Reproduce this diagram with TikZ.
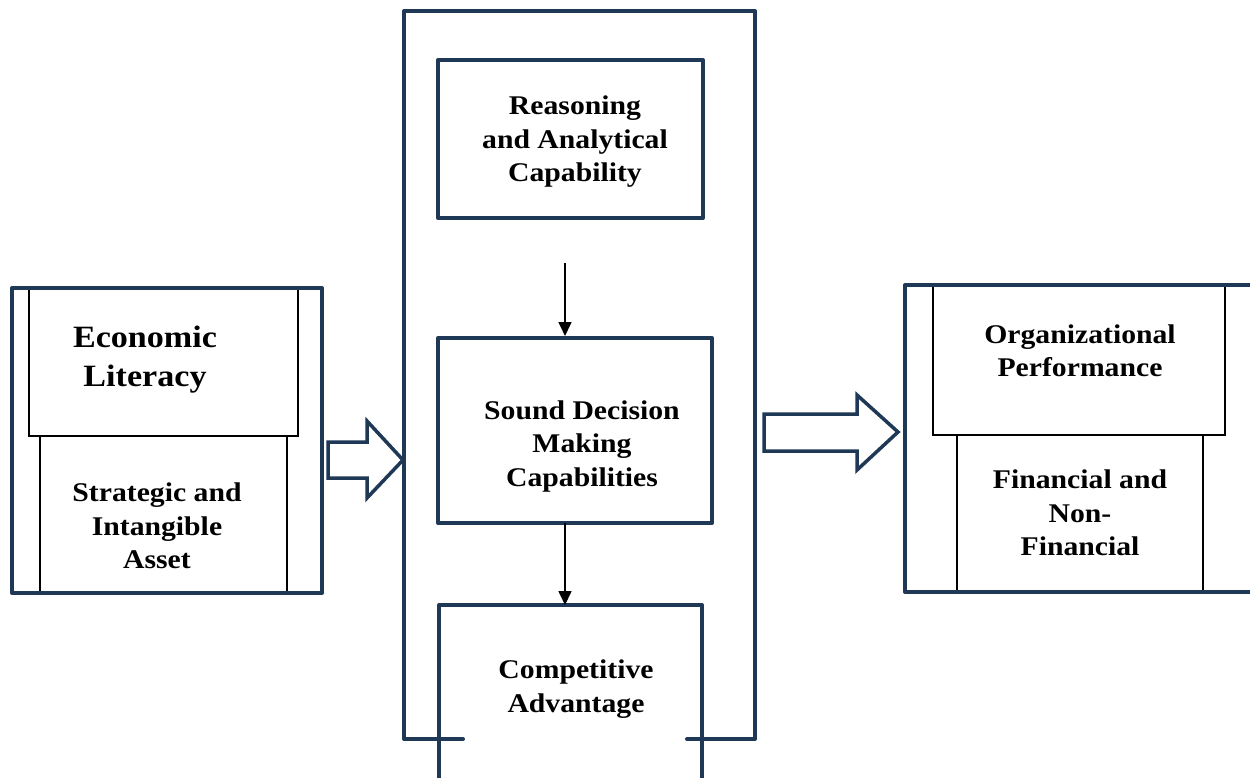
\documentclass[tikz,border=0pt]{standalone}
\usepackage{fontspec}
\setmainfont{Liberation Serif}[FakeStretch=1.1]
\usetikzlibrary{arrows.meta}
\definecolor{navy}{RGB}{31,56,86}
\tikzset{
  frame/.style={draw=navy, line width=4pt, line join=round, line cap=round},
  thinbox/.style={draw=black, line width=1.8pt},
  block/.style={draw=navy, line width=3.5pt, line join=miter, fill=white},
  label/.style={align=center, font=\bfseries\fontsize{27}{33.5}\selectfont, inner sep=0pt},
  biglabel/.style={align=center, font=\bfseries\fontsize{31}{39}\selectfont, inner sep=0pt},
  flow/.style={draw=black, line width=1.6pt, -{Triangle[length=14pt,width=13pt]}}
}
\begin{document}
\begin{tikzpicture}[x=1pt, y=-1pt]
  \useasboundingbox (0,0) rectangle (1250,777);
  \clip (0,0) rectangle (1250,777);

  % left block: Economic Literacy over Strategic and Intangible Asset
  \draw[thinbox] (29,288) rectangle (298,436);
  \draw[thinbox] (40,436) -- (40,593) (287,593) -- (287,436);
  \node[frame, minimum width=310pt, minimum height=305pt] (leftframe) at (167,440.5) {};
  \node[biglabel] (econ) at (145,360) {Economic\\Literacy};
  \node[label] (strat) at (157,526) {Strategic and\\Intangible\\Asset};

  % central column
  \draw[frame] (463,739) -- (404,739) -- (404,11) -- (755,11) -- (755,739) -- (687,739);
  \node[frame, minimum width=265pt, minimum height=158pt] (reason) at (570.5,139) {};
  \node[label] (reasontext) at (575,142) {Reasoning\\and Analytical\\Capability};
  \node[frame, minimum width=274pt, minimum height=185pt] (sound) at (575,430.5) {};
  \node[label] (soundtext) at (582,446) {Sound Decision\\Making\\Capabilities};
  \coordinate (compTL) at (439,605);
  \coordinate (compTR) at (702,605);
  \draw[frame] (439,800) -- (compTL) -- (compTR) -- (702,800);
  \coordinate (compTop) at (565,605);
  \node[label] (comp) at (576,689) {Competitive\\Advantage};

  % arrows between the central boxes
  \coordinate (flowstart) at (565,263);
  \draw[flow] (flowstart) -- (flowstart |- sound.north);
  \coordinate (soundout) at (565,523);
  \draw[flow] (soundout) -- (compTop);

  % right block: Organizational Performance
  \draw[thinbox] (933,285) rectangle (1225,435);
  \draw[thinbox] (957,435) -- (957,592) (1203,592) -- (1203,435);
  \node[frame, minimum width=355pt, minimum height=307pt] (rightframe) at (1082.5,438.5) {};
  \node[label] (org) at (1080,351) {Organizational\\Performance};
  \node[label] (fin) at (1080,513) {Financial and\\Non-\\Financial};

  % block arrows
  \draw[block] (328,442) -- (367,442) -- (367,421) -- (403,460) -- (367,498) -- (367,478) -- (328,478) -- cycle;
  \draw[block] (764,414) -- (857,414) -- (857,395) -- (898,432) -- (857,470) -- (857,451) -- (764,451) -- cycle;
\end{tikzpicture}
\end{document}
